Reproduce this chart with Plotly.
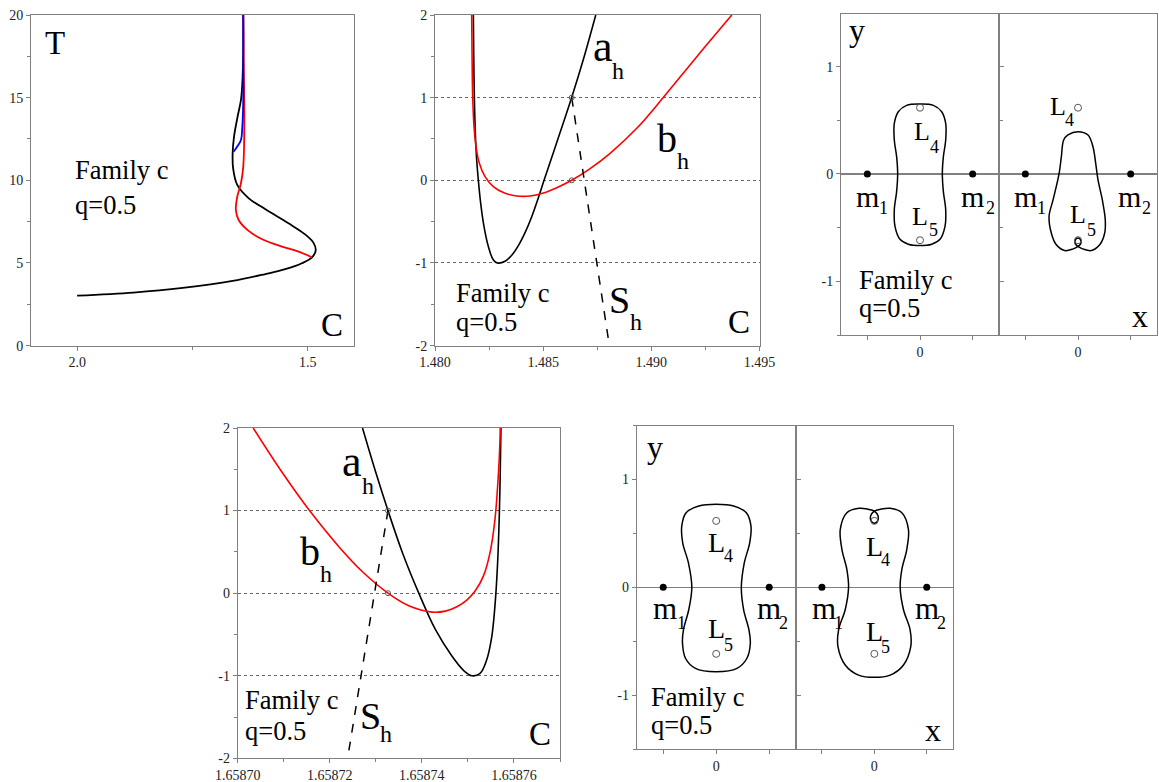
import plotly.graph_objects as go

W, H = 1159, 782
SERIF = "Liberation Serif"
AX = "#808080"

# ---------------- Tick labels ----------------
IDX_TICKS = [-2, -1, 0, 1, 2]
IDX_TICKTEXT = ["-2", "-1", "0", "1", "2"]
XY_TICKS = [-1, 0, 1]
XY_TICKTEXT = ["-1", "0", "1"]
ORB_XTICKS = [-0.5, 0, 0.5]
ORB_XTICKTEXT = ["", "0", ""]

# ---------------- Panel 1: T vs C characteristic ----------------
P1_BLACK_C = [2.0, 1.878, 1.771, 1.663, 1.592, 1.549, 1.513, 1.491, 1.483, 1.488, 1.506, 1.542,
              1.592, 1.628, 1.653, 1.662, 1.663, 1.660, 1.653, 1.645, 1.642, 1.640, 1.640]
P1_BLACK_T = [3.02, 3.21, 3.49, 3.91, 4.33, 4.62, 4.98, 5.34, 5.75, 6.23, 6.73, 7.40,
              8.25, 8.91, 9.72, 10.73, 11.63, 12.64, 13.75, 14.86, 15.87, 17.88, 20.0]
P1_RED_C = [1.491, 1.520, 1.556, 1.599, 1.631, 1.650, 1.656, 1.653, 1.645, 1.640, 1.638, 1.638, 1.640]
P1_RED_T = [5.34, 5.69, 5.99, 6.43, 7.00, 7.60, 8.20, 9.01, 9.82, 10.83, 12.44, 14.86, 20.0]
P1_BLUE_C = [1.661, 1.653, 1.645, 1.642, 1.640, 1.640, 1.640]
P1_BLUE_T = [11.73, 12.04, 12.44, 13.25, 14.86, 16.88, 20.0]

# ---------------- Panel 2: stability indices near C=1.48 ----------------
P2_A_C = [1.481773, 1.481788, 1.481819, 1.481865, 1.481927, 1.482004, 1.482112, 1.482266, 1.482467,
          1.482698, 1.482883, 1.483237, 1.483546, 1.483854, 1.484162, 1.484471, 1.484779, 1.485041,
          1.485627, 1.486321, 1.486860, 1.487431]
P2_A_Y = [2.0, 1.577, 1.012, 0.569, 0.246, 0.0, -0.278, -0.560, -0.802,
          -0.964, -1.0, -0.980, -0.907, -0.790, -0.633, -0.440, -0.210, 0.0,
          0.456, 1.004, 1.464, 2.0]
P2_B_C = [1.481696, 1.481711, 1.481742, 1.481804, 1.481896, 1.482050, 1.482312, 1.482698, 1.483160,
          1.483777, 1.484394, 1.485010, 1.485627, 1.486321, 1.487169, 1.488094, 1.489327, 1.490560,
          1.492102, 1.493720]
P2_B_Y = [2.0, 1.577, 1.012, 0.649, 0.407, 0.206, 0.044, -0.077, -0.149,
          -0.190, -0.190, -0.153, -0.089, 0.0, 0.141, 0.327, 0.629, 1.004,
          1.496, 2.0]
P2_S_C = [1.486321, 1.488059]
P2_S_Y = [1.0, -2.0]
P2_PT_C = [1.486321, 1.486321]
P2_PT_Y = [1.0, 0.0]

# ---------------- Panel 4: stability indices near C=1.65874 ----------------
P4_A_C = [1.65872711, 1.65872998, 1.65873264, 1.65873574, 1.65873933, 1.65874293, 1.65874652,
          1.65874904, 1.65875084, 1.65875264, 1.65875407, 1.65875515, 1.65875587, 1.65875645,
          1.65875681, 1.65875702, 1.65875717]
P4_A_Y = [2.0, 1.464, 1.0, 0.496, 0.0, -0.440, -0.762,
          -0.935, -1.0, -0.972, -0.810, -0.540, -0.157, 0.367,
          0.932, 1.456, 2.0]
P4_B_C = [1.65870337, 1.65870949, 1.65871560, 1.65872207, 1.65872711, 1.65873264, 1.65873717,
          1.65874221, 1.65874509, 1.65874760, 1.65874976, 1.65875156, 1.65875336, 1.65875479,
          1.65875587, 1.65875659, 1.65875695, 1.65875702]
P4_B_Y = [2.0, 1.476, 1.0, 0.557, 0.259, 0.0, -0.153,
          -0.230, -0.218, -0.165, -0.084, 0.025, 0.206, 0.488,
          0.891, 1.416, 1.819, 2.0]
P4_S_C = [1.65873264, 1.65872387]
P4_S_Y = [1.0, -2.0]
P4_PT_C = [1.65873264, 1.65873264]
P4_PT_Y = [1.0, 0.0]

# ---------------- Orbits (x, y) ----------------
P3L_X = [0.0, 0.127, 0.206, 0.244, 0.244, 0.222, 0.212, 0.222, 0.244, 0.237, 0.190, 0.111, 0.0,
         -0.111, -0.190, -0.237, -0.244, -0.222, -0.212, -0.222, -0.244, -0.244, -0.206, -0.127, 0.0]
P3L_Y = [0.651, 0.639, 0.580, 0.471, 0.316, 0.161, 0.0, -0.164, -0.335, -0.490, -0.608, -0.654, -0.667,
         -0.654, -0.608, -0.490, -0.335, -0.164, 0.0, 0.161, 0.316, 0.471, 0.580, 0.639, 0.651]

P3R_X = [0.0, 0.095, 0.142, 0.168, 0.190, 0.231, 0.259, 0.253, 0.206, 0.127, 0.050, 0.0,
         -0.028, -0.020, 0.0, 0.020, 0.028, 0.0, -0.050, -0.127, -0.206, -0.253, -0.275,
         -0.237, -0.180, -0.158, -0.136, -0.095, 0.0]
P3R_Y = [0.394, 0.363, 0.254, 0.099, -0.056, -0.242, -0.428, -0.552, -0.660, -0.713, -0.700, -0.675,
         -0.645, -0.607, -0.597, -0.607, -0.645, -0.675, -0.700, -0.713, -0.660, -0.552, -0.397,
         -0.242, 0.0, 0.161, 0.316, 0.363, 0.394]

P5L_X = [0.0, 0.164, 0.284, 0.328, 0.316, 0.265, 0.237, 0.259, 0.309, 0.322, 0.290, 0.196, 0.0,
         -0.196, -0.290, -0.318, -0.309, -0.259, -0.230, -0.262, -0.316, -0.325, -0.284, -0.164, 0.0]
P5L_Y = [0.770, 0.755, 0.693, 0.568, 0.413, 0.227, 0.0, -0.208, -0.394, -0.519, -0.658, -0.752, -0.783,
         -0.752, -0.658, -0.519, -0.394, -0.208, 0.0, 0.227, 0.413, 0.568, 0.693, 0.755, 0.770]

P5R_X = [0.151, 0.262, 0.325, 0.309, 0.262, 0.246, 0.278, 0.341, 0.347, 0.278, 0.151, 0.0,
         -0.151, -0.278, -0.347, -0.341, -0.278, -0.246, -0.262, -0.309, -0.325, -0.262, -0.148,
         -0.060, 0.0, 0.035, 0.030, 0.0, -0.030, -0.035, 0.0, 0.060, 0.151]
P5R_Y = [0.733, 0.693, 0.537, 0.351, 0.165, 0.0, -0.208, -0.394, -0.550, -0.720, -0.814, -0.835,
         -0.814, -0.720, -0.550, -0.394, -0.208, 0.0, 0.165, 0.351, 0.537, 0.693, 0.733,
         0.725, 0.708, 0.665, 0.615, 0.595, 0.615, 0.665, 0.708, 0.725, 0.733]

PRIM_X = [-0.5, 0.5]
PRIM_Y = [0.0, 0.0]
LAG_X = [0.0, 0.0]
LAG_Y = [0.617, -0.617]


def dx(a, b):
    return [a / W, b / W]


def dy(top, bottom):
    return [1 - bottom / H, 1 - top / H]


fig = go.Figure()


def line(xa, ya, x, y, color="black", width=1.6, dash="solid", shape="spline"):
    fig.add_trace(go.Scatter(x=x, y=y, xaxis=xa, yaxis=ya, mode="lines",
                             line=dict(color=color, width=width, dash=dash, shape=shape,
                                       smoothing=1.0),
                             showlegend=False, hoverinfo="skip"))


def hollow(xa, ya, x, y, size=6):
    fig.add_trace(go.Scatter(x=x, y=y, xaxis=xa, yaxis=ya, mode="markers",
                             marker=dict(symbol="circle-open", size=size, color="#555",
                                         line=dict(width=1)),
                             showlegend=False, hoverinfo="skip"))


def dots(xa, ya, x, y):
    fig.add_trace(go.Scatter(x=x, y=y, xaxis=xa, yaxis=ya, mode="markers",
                             marker=dict(symbol="circle", size=7, color="black"),
                             showlegend=False, hoverinfo="skip"))


# Panel 1
line("x", "y", P1_BLACK_C, P1_BLACK_T, "black", 1.8)
line("x", "y", P1_RED_C, P1_RED_T, "#ff0000", 1.8)
line("x", "y", P1_BLUE_C, P1_BLUE_T, "#0000ff", 1.8)

# Panel 2
line("x2", "y2", P2_A_C, P2_A_Y, "black", 1.6)
line("x2", "y2", P2_B_C, P2_B_Y, "#ff0000", 1.6)
line("x2", "y2", P2_S_C, P2_S_Y, "black", 1.5, "dash", "linear")
hollow("x2", "y2", P2_PT_C, P2_PT_Y, 5)

# Panel 3
line("x3", "y3", P3L_X, P3L_Y, "black", 1.5)
line("x4", "y3", P3R_X, P3R_Y, "black", 1.5)
for xa in ("x3", "x4"):
    dots(xa, "y3", PRIM_X, PRIM_Y)
    hollow(xa, "y3", LAG_X, LAG_Y, 7)

# Panel 4
line("x5", "y5", P4_A_C, P4_A_Y, "black", 1.6)
line("x5", "y5", P4_B_C, P4_B_Y, "#ff0000", 1.6)
line("x5", "y5", P4_S_C, P4_S_Y, "black", 1.5, "dash", "linear")
hollow("x5", "y5", P4_PT_C, P4_PT_Y, 5)

# Panel 5
line("x6", "y6", P5L_X, P5L_Y, "black", 1.5)
line("x7", "y6", P5R_X, P5R_Y, "black", 1.5)
for xa in ("x6", "x7"):
    dots(xa, "y6", PRIM_X, PRIM_Y)
    hollow(xa, "y6", LAG_X, LAG_Y, 7)

tickfont = dict(family=SERIF, size=14, color="#222")


def axis(domain, rng, anchor, **kw):
    d = dict(domain=domain, range=rng, anchor=anchor, showline=True, linecolor=AX,
             linewidth=1, mirror=True, ticks="outside", ticklen=4, tickcolor=AX,
             tickwidth=1, showgrid=False, zeroline=False, tickfont=tickfont, fixedrange=True,
             automargin=False)
    d.update(kw)
    return d


minor = lambda dt: dict(dtick=dt, tickmode="linear", ticks="outside", ticklen=3,
                        tickcolor=AX, showgrid=False)

layout = dict(
    width=W, height=H, margin=dict(l=0, r=0, t=0, b=0, pad=0, autoexpand=False),
    paper_bgcolor="white", plot_bgcolor="white", showlegend=False,
    xaxis=axis(dx(31, 354), [2.1, 1.4], "y", tick0=2.0, dtick=0.5, tickformat=".1f",
               minor=minor(0.25)),
    yaxis=axis(dy(15, 345.6), [0, 20], "x", dtick=5, minor=minor(2.5)),
    xaxis2=axis(dx(435, 759.5), [1.480, 1.495], "y2", dtick=0.005, tickformat=".3f",
                minor=minor(0.0025)),
    yaxis2=axis(dy(15, 345.6), [-2, 2], "x2", tickvals=IDX_TICKS, ticktext=IDX_TICKTEXT,
                minor=minor(0.5), showgrid=True, gridcolor="#666", griddash="dot", gridwidth=1),
    xaxis3=axis(dx(841, 999), [-0.75, 0.75], "y3", tickvals=ORB_XTICKS, ticktext=ORB_XTICKTEXT),
    xaxis4=axis(dx(999, 1157), [-0.75, 0.75], "y3", tickvals=ORB_XTICKS, ticktext=ORB_XTICKTEXT),
    yaxis3=axis(dy(14, 335), [-1.5, 1.49], "x3", tickvals=XY_TICKS, ticktext=XY_TICKTEXT,
                minor=minor(0.5), mirror="all",
                zeroline=True, zerolinecolor=AX, zerolinewidth=1.5),
    xaxis5=axis(dx(237.7, 560), [1.65870, 1.65877], "y5", tick0=1.65870, dtick=0.00002,
                tickformat=".5f", minor=minor(0.00001)),
    yaxis5=axis(dy(428, 758.3), [-2, 2], "x5", tickvals=IDX_TICKS, ticktext=IDX_TICKTEXT,
                minor=minor(0.5), showgrid=True, gridcolor="#666", griddash="dot", gridwidth=1),
    xaxis6=axis(dx(636.7, 795.7), [-0.75, 0.75], "y6", tickvals=ORB_XTICKS, ticktext=ORB_XTICKTEXT),
    xaxis7=axis(dx(795.7, 953), [-0.75, 0.75], "y6", tickvals=ORB_XTICKS, ticktext=ORB_XTICKTEXT),
    yaxis6=axis(dy(425.7, 749), [-1.5, 1.5], "x6", tickvals=XY_TICKS, ticktext=XY_TICKTEXT,
                minor=minor(0.5), mirror="all",
                zeroline=True, zerolinecolor=AX, zerolinewidth=1.5),
)
fig.update_layout(**layout)

annots = []


def txt(xa, ya, x, y, s, size, anchor="center"):
    annots.append(dict(xref=xa, yref=ya, x=x, y=y, text=s, showarrow=False,
                       xanchor=anchor, yanchor="middle",
                       font=dict(family=SERIF, size=size, color="black")))


def sub(xa, ya, x, y, s, size, xs, ys, ssize, text_sub):
    txt(xa, ya, x, y, s, size)
    txt(xa, ya, xs, ys, text_sub, ssize)


FS = 26.5

# Panel 1 labels
txt("x", "y", 2.047, 18.3, "T", 33)
txt("x", "y", 2.009, 10.6, "Family c", FS, "left")
txt("x", "y", 2.009, 8.5, "q=0.5", FS, "left")
txt("x", "y", 1.448, 1.25, "C", 33)

# Panel 2 labels
sub("x2", "y2", 1.48778, 1.62, "a", 44, 1.48847, 1.32, 24, "h")
sub("x2", "y2", 1.49071, 0.50, "b", 40, 1.49148, 0.23, 24, "h")
sub("x2", "y2", 1.48855, -1.45, "S", 38, 1.48929, -1.71, 24, "h")
txt("x2", "y2", 1.48090, -1.36, "Family c", FS, "left")
txt("x2", "y2", 1.48090, -1.71, "q=0.5", FS, "left")
txt("x2", "y2", 1.49407, -1.71, "C", 33)

# Panel 3 labels
txt("x3", "y3", -0.60, 1.34, "y", 32)
sub("x3", "y3", 0.016, 0.393, "L", 26, 0.142, 0.254, 18, "4")
sub("x3", "y3", 0.0, -0.397, "L", 26, 0.127, -0.521, 18, "5")
sub("x3", "y3", -0.50, -0.211, "m", 30, -0.349, -0.319, 18, "1")
sub("x3", "y3", 0.50, -0.211, "m", 30, 0.671, -0.319, 18, "2")
txt("x3", "y3", -0.60, -0.986, "Family c", FS, "left")
txt("x3", "y3", -0.60, -1.249, "q=0.5", FS, "left")
sub("x4", "y3", -0.50, -0.211, "m", 30, -0.348, -0.319, 18, "1")
sub("x4", "y3", 0.491, -0.211, "m", 30, 0.65, -0.319, 18, "2")
sub("x4", "y3", -0.19, 0.626, "L", 26, -0.085, 0.502, 18, "4")
sub("x4", "y3", 0.0, -0.381, "L", 26, 0.127, -0.521, 18, "5")
txt("x4", "y3", 0.586, -1.327, "x", 32)

# Panel 4 labels
sub("x5", "y5", 1.6587249, 1.60, "a", 44, 1.6587282, 1.30, 24, "h")
sub("x5", "y5", 1.6587156, 0.50, "b", 40, 1.6587192, 0.23, 24, "h")
sub("x5", "y5", 1.6587289, -1.49, "S", 38, 1.6587323, -1.71, 24, "h")
txt("x5", "y5", 1.6587012, -1.29, "Family c", FS, "left")
txt("x5", "y5", 1.6587012, -1.67, "q=0.5", FS, "left")
txt("x5", "y5", 1.6587656, -1.71, "C", 33)

# Panel 5 labels
txt("x6", "y6", -0.578, 1.298, "y", 32)
sub("x6", "y6", 0.0, 0.413, "L", 28, 0.117, 0.289, 18, "4")
sub("x6", "y6", 0.0, -0.379, "L", 28, 0.117, -0.534, 18, "5")
sub("x6", "y6", -0.483, -0.193, "m", 31, -0.325, -0.332, 18, "1")
sub("x6", "y6", 0.496, -0.193, "m", 31, 0.638, -0.332, 18, "2")
txt("x6", "y6", -0.63, -1.016, "Family c", FS, "left")
txt("x6", "y6", -0.63, -1.28, "q=0.5", FS, "left")
sub("x7", "y6", -0.48, -0.193, "m", 31, -0.338, -0.332, 18, "1")
sub("x7", "y6", 0.499, -0.193, "m", 31, 0.641, -0.332, 18, "2")
sub("x7", "y6", 0.0, 0.382, "L", 28, 0.104, 0.258, 18, "4")
sub("x7", "y6", 0.0, -0.41, "L", 28, 0.104, -0.55, 18, "5")
txt("x7", "y6", 0.562, -1.326, "x", 32)

fig.update_layout(annotations=annots)
fig.write_html("out.html",
               config={"displayModeBar": False, "staticPlot": True},
               post_script="document.body.style.margin='0px';"
                           "document.body.style.overflow='hidden';")
